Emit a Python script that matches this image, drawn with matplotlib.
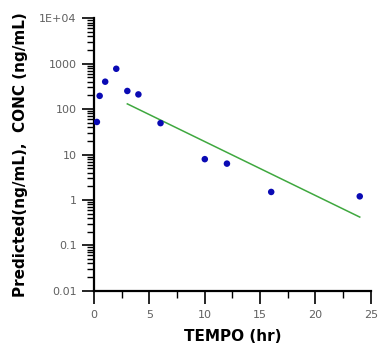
import matplotlib.pyplot as plt
from matplotlib.ticker import LogLocator, FixedLocator, MultipleLocator, NullFormatter

# observed concentrations
time_obs = [0.25, 0.5, 1.0, 2.0, 3.0, 4.0, 6.0, 10.0, 12.0, 16.0, 24.0]
conc_obs = [52, 195, 400, 770, 250, 210, 49, 7.9, 6.3, 1.5, 1.2]

# predicted (log-linear terminal phase)
time_pred = [3.0, 24.0]
conc_pred = [130, 0.42]

y_ticks = [0.01, 0.1, 1, 10, 100, 1000, 10000]
y_labels = ['0.01', '0.1', '1', '10', '100', '1000', '1E+04']
x_ticks = [0, 5, 10, 15, 20, 25]

fig = plt.figure(figsize=(3.78, 3.56), dpi=100)
ax = fig.add_axes([0.249, 0.183, 0.732, 0.766])

ax.plot(time_pred, conc_pred, color='#3fa83f', lw=1.1)
ax.scatter(time_obs, conc_obs, s=22, color='#0a0ab4', zorder=3, edgecolors='none')

ax.set_yscale('log')
ax.set_xlim(0, 25)
ax.set_ylim(0.01, 10000)

ax.yaxis.set_major_locator(FixedLocator(y_ticks))
ax.set_yticklabels(y_labels)
ax.yaxis.set_minor_locator(LogLocator(base=10, subs=range(2, 10), numticks=20))
ax.yaxis.set_minor_formatter(NullFormatter())
ax.set_xticks(x_ticks)
ax.xaxis.set_minor_locator(MultipleLocator(2.5))

for s in ['top', 'right']:
    ax.spines[s].set_visible(False)
for s in ['left', 'bottom']:
    ax.spines[s].set_linewidth(1.6)

ax.tick_params(which='major', length=9, width=1.2, colors='black', labelcolor='#606060', labelsize=8)
ax.tick_params(axis='x', which='major', pad=5)
ax.tick_params(which='minor', length=5, width=1.0, colors='black')

ax.set_xlabel('TEMPO (hr)', fontsize=11, fontweight='bold', labelpad=6)
ax.set_ylabel('Predicted(ng/mL),  CONC (ng/mL)', fontsize=11, fontweight='bold', labelpad=8)

fig.savefig('out.png', dpi=100)
